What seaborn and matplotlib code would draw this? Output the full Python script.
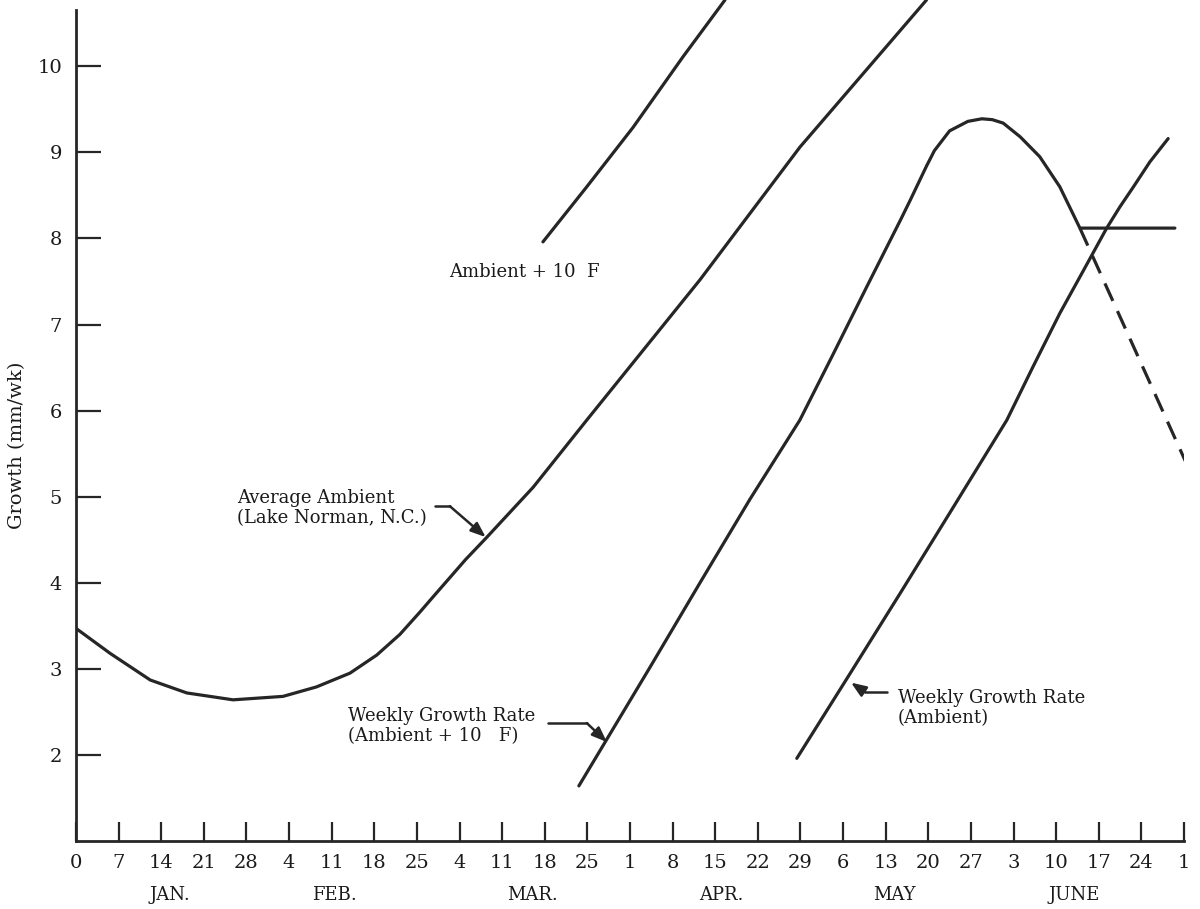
import matplotlib
matplotlib.use('Agg')
import matplotlib.pyplot as plt
import pandas as pd
import seaborn as sns

# x = days counted from Jan 0, y = growth (mm/wk)
ambient_day = [0, 5.6, 12.2, 18.2, 25.8, 34.0, 39.5, 45.0, 49.4, 53.2, 56.5, 58.7, 64.0, 67.5, 75.1,
               83.9, 102.5, 118.9, 139.7]
ambient_val = [3.47, 3.18, 2.87, 2.72, 2.64, 2.68, 2.79, 2.95, 3.16, 3.40, 3.66, 3.84, 4.27, 4.53, 5.11,
               5.89, 7.52, 9.06, 10.77]

plus10_day = [76.7, 83.9, 91.5, 99.7, 106.6]
plus10_val = [7.96, 8.60, 9.29, 10.11, 10.77]

growth_plus10_day = [82.6, 94.3, 102.5, 110.7, 118.9, 124.4, 129.9, 135.4, 137.0, 139.7, 141.0, 143.5,
                     146.5, 148.8, 150.5, 152.3, 155.1, 158.3, 161.6, 164.9, 180.5]
growth_plus10_val = [1.64, 3.02, 4.00, 4.97, 5.89, 6.66, 7.44, 8.21, 8.44, 8.84, 9.02, 9.25,
                     9.36, 9.39, 9.38, 9.34, 9.18, 8.95, 8.60, 8.12, 8.12]

# dashed continuation of the +10 F growth curve
growth_plus10_drop_day = [164.9, 182.5]
growth_plus10_drop_val = [8.12, 5.37]

growth_amb_day = [118.4, 127.1, 135.4, 143.6, 152.9, 157.2, 161.6, 165.5, 169.3, 171.5, 173.7, 176.4, 179.4]
growth_amb_val = [1.96, 2.94, 3.88, 4.82, 5.89, 6.51, 7.13, 7.63, 8.12, 8.37, 8.60, 8.89, 9.16]

week_ticks = list(range(0, 183, 7))
week_labels = ['0', '7', '14', '21', '28', '4', '11', '18', '25', '4', '11', '18', '25',
               '1', '8', '15', '22', '29', '6', '13', '20', '27', '3', '10', '17', '24', '1']
months = ['JAN.', 'FEB.', 'MAR.', 'APR.', 'MAY', 'JUNE']
month_mid = [15.5, 42.5, 75, 106, 134.5, 164]

INK = '#262626'


def main():
    sns.set_style('white')
    plt.rcParams['font.family'] = ['DejaVu Serif']

    fig = plt.figure(figsize=(12, 9.09), dpi=100)
    ax = fig.add_axes([76 / 1200, 1 - 841 / 909, 1108 / 1200, 841 / 909])

    series = [
        (ambient_day, ambient_val, '-'),
        (plus10_day, plus10_val, '-'),
        (growth_plus10_day, growth_plus10_val, '-'),
        (growth_amb_day, growth_amb_val, '-'),
        (growth_plus10_drop_day, growth_plus10_drop_val, (0, (6, 3.5))),
    ]
    for xs, ys, ls in series:
        df = pd.DataFrame({'day': xs, 'growth': ys})
        sns.lineplot(data=df, x='day', y='growth', sort=False, estimator=None,
                     color=INK, lw=2.3, linestyle=ls, ax=ax)

    ax.set_xlim(0, 182)
    ax.set_ylim(1, 10.77)
    ax.set_xlabel('')
    ax.set_ylabel('')
    sns.despine(ax=ax)
    ax.spines['left'].set_bounds(1, 10.65)
    for s in ['left', 'bottom']:
        ax.spines[s].set_linewidth(2)
        ax.spines[s].set_color(INK)

    ax.set_xticks(week_ticks)
    ax.set_xticklabels(week_labels)
    ax.set_yticks(range(2, 11))
    ax.tick_params(axis='x', bottom=True, direction='in', length=13.5, width=1.6, color=INK,
                   labelsize=14, pad=9, labelcolor='#1a1a1a')
    ax.tick_params(axis='y', left=True, direction='in', length=18, width=1.6, color=INK,
                   labelsize=14, pad=10, labelcolor='#1a1a1a')

    for m, d in zip(months, month_mid):
        ax.text(d, -0.064, m, transform=ax.get_xaxis_transform(), ha='center',
                va='center', fontsize=13, color='#1a1a1a')

    fig.text(17 / 1200, 1 - 445 / 909, 'Growth (mm/wk)', rotation=90, ha='center',
             va='center', fontsize=14, color='#1a1a1a')

    # curve labels
    txt = dict(fontsize=13, color='#1a1a1a', va='center', linespacing=1.15)
    head = dict(arrowstyle='-|>,head_length=0.9,head_width=0.35', color=INK, lw=1.8,
                shrinkA=0, shrinkB=0)

    ax.text(26.4, 4.87, 'Average Ambient\n(Lake Norman, N.C.)', ha='left', **txt)
    ax.plot([59.0, 61.4], [4.89, 4.89], color=INK, lw=1.8)
    ax.annotate('', xy=(67.3, 4.53), xytext=(61.4, 4.89), arrowprops=head)

    ax.text(73.6, 7.61, 'Ambient + 10  F', ha='center', **txt)

    ax.text(44.7, 2.34, 'Weekly Growth Rate\n(Ambient + 10   F)', ha='left', **txt)
    ax.plot([77.5, 83.9], [2.37, 2.37], color=INK, lw=1.8)
    ax.annotate('', xy=(87.2, 2.15), xytext=(83.9, 2.37), arrowprops=head)

    ax.text(135.0, 2.54, 'Weekly Growth Rate\n(Ambient)', ha='left', **txt)
    ax.plot([133.2, 129.6], [2.73, 2.73], color=INK, lw=1.8)
    ax.annotate('', xy=(127.3, 2.84), xytext=(129.6, 2.73), arrowprops=head)

    fig.savefig('out.png', dpi=100, facecolor='white')
    plt.close(fig)


if __name__ == '__main__':
    main()
